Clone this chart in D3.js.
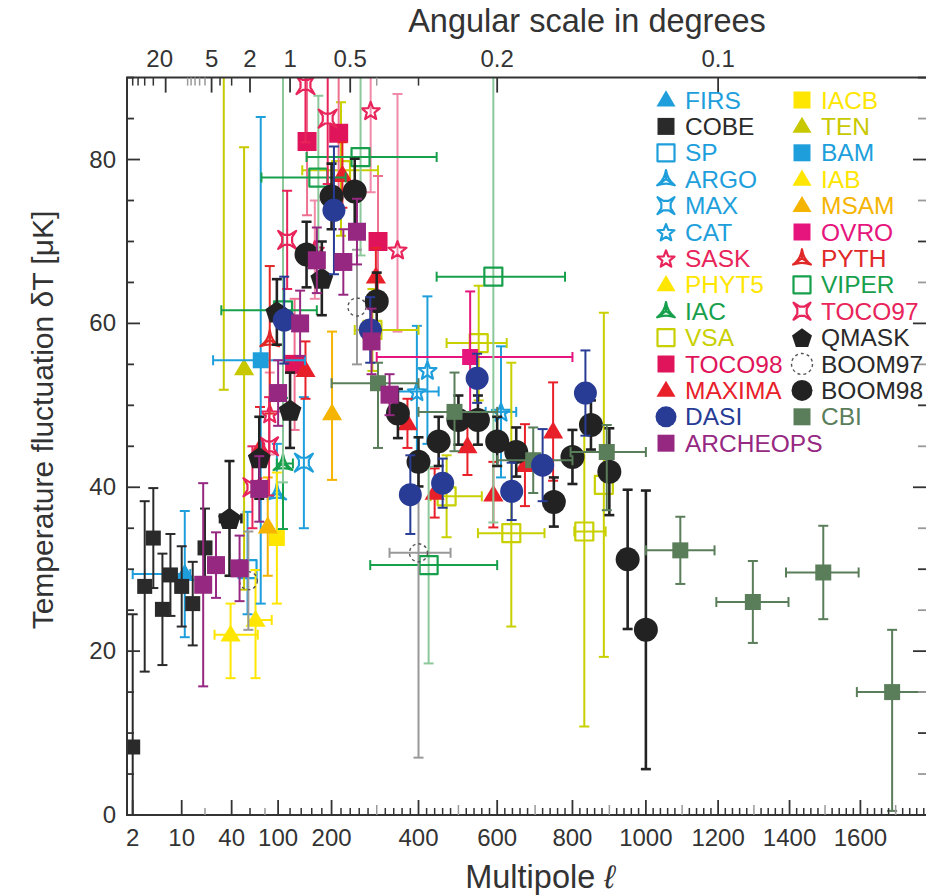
<!DOCTYPE html>
<html><head><meta charset="utf-8">
<script src="https://cdn.jsdelivr.net/npm/d3@7"></script>
<style>
body{margin:0;background:#fff;}
svg{display:block;font-family:"Liberation Sans",Arial,Helvetica,sans-serif;}
</style></head><body>
<svg id="chart" width="926" height="895"></svg>
<script>
// Point rows: [multipole, dT (uK), err down, err up, multipole low, multipole high]
const firs     = [[11, 29.4, 7.7, 7.7, 2, 13]];
const cobe     = [[2, 8.3, 8.3, 16.2], [3, 27.9, 10.4, 10.4], [4, 33.8, 6.1, 6.1], [5.4, 25.1, 6.8, 6.8],
                  [7, 29.3, 5, 5], [10, 27.9, 4.9, 4.9], [14, 25.8, 5.1, 5.1], [20, 32.6, 4.8, 4.8]];
const sp       = [[57, 30, 5.5, 7]];
const argo     = [[98, 39.3, 6, 6]];
const maxExp   = [[145, 43, 8, 8]];
const cat      = [[396, 51.7, 8, 8, 350, 450], [422, 54.3, 9, 9], [610, 49.2, 8, 8, 570, 650]];
const sask     = [[87, 49, 5, 5], [166, 69, 6, 6], [286, 86, 10, 10], [349, 69, 10, 19]];
const phyt5    = [[67, 23.8, 7.1, 6.1, 58, 90]];
const iac      = [[108, 42.9, 8, 8, 98, 125]];
const vsa      = [[220, 78.7, 8, 8.3, 142, 303], [290, 59.2, 5, 5, 250, 400], [470, 38.9, 5, 5, 430, 560],
                  [552, 57.6, 7, 7, 470, 625], [637, 34.4, 11.4, 20.8, 550, 725],
                  [832, 34.6, 23.8, 13.4, 805, 890], [885, 40.3, 21, 21]];
const toco98   = [[128, 55, 8, 8], [151, 82.2, 9, 9], [215, 83.2, 7, 7], [303, 70, 8, 8]];
const maxima   = [[73, 44.8, 5, 5], [148, 54.3, 3.5, 3.5], [223, 78.1, 4, 4], [298, 65.7, 3.5, 3.5],
                  [373, 47.8, 3, 3], [440, 39.3, 3, 3], [523, 45, 3.5, 3.5], [590, 39.1, 4, 4],
                  [673, 42.7, 5, 5], [748, 46.8, 6, 6]];
const dasi     = [[110, 60.4, 5.3, 5.3], [205, 73.8, 7.8, 7.8], [285, 59.2, 4, 4], [380, 39.1, 4.8, 4.8],
                  [460, 40.5, 3, 3], [548, 53.3, 3, 3], [638, 39.5, 3.5, 3.5], [720, 42.7, 4.4, 4.4],
                  [835, 51.5, 5.2, 5.2]];
const archeops = [[19, 28.1, 12.4, 12.4], [27, 30.5, 4, 4], [48, 30.1, 4, 4], [72, 39.8, 4, 4],
                  [100, 51.5, 4, 4], [138, 60, 4, 4], [170, 67.7, 4, 4], [225, 67.5, 4, 4],
                  [255, 71.2, 4, 4], [288, 57.8, 4, 4], [330, 51.3, 2.5, 2.5]];
const iacb     = [[98, 33.8, 8, 8]];
const ten      = [[33, 100, 48.1, 20], [53, 54.5, 27, 27]];
const bam      = [[74, 55.5, 29.7, 29.7, 25, 147]];
const iab      = [[39, 22, 5.3, 3.8, 26, 70]];
const msam     = [[84, 35.2, 6, 6], [201, 49, 8.1, 10]];
const ovro     = [[530, 55.9, 8, 8, 300, 800]];
const pyth     = [[87, 58, 9, 9]];
const viper    = [[108, 61.6, 21, 31, 31, 170], [173, 77.8, 10, 10, 75, 230], [263, 80.3, 12, 12, 150, 445],
                  [425, 30.5, 12, 12, 285, 600], [590, 65.7, 30, 30, 445, 780]];
const toco97   = [[63, 40, 5, 5], [86, 45, 6, 6], [115, 70.2, 6, 6], [148, 89.1, 7, 7], [192, 85, 8, 8]];
const qmask    = [[38, 36.2, 7, 7, 30, 50], [72, 43.6, 5, 5], [98, 61.4, 4, 4], [120, 49.4, 4.6, 4.6],
                  [180, 65.5, 4.5, 4.5]];
const boom97   = [[58, 28.6, 6, 6], [255, 62, 7, 7], [400, 32, 25, 12, 330, 480]];
const boom98   = [[150, 68.4, 4, 4], [200, 75.5, 4, 4], [250, 76.1, 4, 4], [300, 62.7, 3.5, 3.5],
                  [350, 49, 3, 3], [400, 43.1, 3, 3], [450, 45.6, 3, 3], [500, 48.2, 3, 3],
                  [550, 48.2, 3, 3], [600, 45.6, 3, 3], [650, 44.3, 3, 3], [750, 38.2, 3, 3],
                  [800, 43.7, 3.3, 3.3], [850, 47.6, 3, 3], [900, 41.9, 5.3, 5.3], [950, 31.2, 8.5, 8.5],
                  [1000, 22.6, 17, 17]];
const cbi      = [[303, 52.7, 7.9, 2.5, 200, 400], [490, 49.2, 4.8, 4.8, 400, 600], [695, 43.3, 4, 4, 600, 800],
                  [893, 44.3, 7.1, 3.3, 795, 1000], [1095, 32.3, 4.1, 4.1, 1000, 1190],
                  [1297, 26, 5, 5, 1195, 1397], [1495, 29.6, 5.7, 5.7, 1390, 1595],
                  [1690, 15, 14.5, 7.6, 1590, 1800]];

// Axis ticks
const yMajor = [0, 20, 40, 60, 80];
const xLabels = [2, 10, 40, 100, 200, 400, 600, 800, 1000, 1200, 1400, 1600];
const angleLabels = [20, 5, 2, 1, 0.5, 0.2, 0.1];
const angleMinor = [60, 50, 40, 30, 10, 9, 8, 7, 6, 4, 3, 0.4, 0.3];

const series = [
  {name: "FIRS", data: firs, shape: "triangle", color: "#1e9fdc"},
  {name: "COBE", data: cobe, shape: "square", color: "#2a2a2a", size: 15},
  {name: "SP", data: sp, shape: "osquare", color: "#1e9fdc"},
  {name: "ARGO", data: argo, shape: "tripod", color: "#1e9fdc"},
  {name: "MAX", data: maxExp, shape: "cross4", color: "#1e9fdc"},
  {name: "CAT", data: cat, shape: "ostar", color: "#1e9fdc"},
  {name: "SASK", data: sask, shape: "ostar", color: "#e8245a", bar: "#f08aa8"},
  {name: "PHYT5", data: phyt5, shape: "triangle", color: "#ffe600"},
  {name: "IAC", data: iac, shape: "tripod", color: "#17a04c"},
  {name: "VSA", data: vsa, shape: "osquare", color: "#c8d000"},
  {name: "TOCO98", data: toco98, shape: "square", color: "#e0145a", size: 19, bar: "#ee7090"},
  {name: "MAXIMA", data: maxima, shape: "triangle", color: "#e8202a"},
  {name: "DASI", data: dasi, shape: "circle", color: "#283c96", size: 23},
  {name: "ARCHEOPS", data: archeops, shape: "square", color: "#962882", size: 18},
  {name: "IACB", data: iacb, shape: "square", color: "#ffe600", size: 16},
  {name: "TEN", data: ten, shape: "triangle", color: "#c8c800"},
  {name: "BAM", data: bam, shape: "square", color: "#1e9fdc", size: 16},
  {name: "IAB", data: iab, shape: "triangle", color: "#ffe600"},
  {name: "MSAM", data: msam, shape: "triangle", color: "#f5b400"},
  {name: "OVRO", data: ovro, shape: "square", color: "#e6147d", size: 16},
  {name: "PYTH", data: pyth, shape: "tripod", color: "#e02828"},
  {name: "VIPER", data: viper, shape: "osquare", color: "#17a04c", vbar: "#8cc89a"},
  {name: "TOCO97", data: toco97, shape: "cross4", color: "#e8245a"},
  {name: "QMASK", data: qmask, shape: "pentagon", color: "#222222", size: 24},
  {name: "BOOM97", data: boom97, shape: "dcircle", color: "#555555", bar: "#999999"},
  {name: "BOOM98", data: boom98, shape: "circle", color: "#222222", size: 24},
  {name: "CBI", data: cbi, shape: "square", color: "#5a7d5a", size: 16}
];
const drawOrder = ["FIRS","COBE","SP","ARGO","MAX","CAT","SASK","PHYT5","IAC","VSA","TOCO98","MAXIMA",
  "IACB","TEN","BAM","IAB","MSAM","OVRO","PYTH","VIPER","TOCO97","QMASK","BOOM97","BOOM98","CBI","DASI","ARCHEOPS"];

const plot = {left: 127, right: 927, top: 77.6, bottom: 815};
const K = 85.91;                        // log-linear warp of the multipole axis
const warp = l => l + K * Math.log(l);
const xw = d3.scaleLinear().domain([warp(2), warp(1600)]).range([132.7, 860.4]);
const X = l => xw(warp(l));
const Y = d3.scaleLinear().domain([0, 90]).range([plot.bottom, plot.top]);

const svg = d3.select("#chart");
const ink = "#333";

function symbolPath(shape, s) {
  const r = s / 2;
  if (shape === "triangle") {
    const h = s * 0.95, b = s * 0.56;
    return `M0,${-h*0.6}L${b},${h*0.4}L${-b},${h*0.4}Z`;
  }
  if (shape === "square" || shape === "osquare") return `M${-r},${-r}h${s}v${s}h${-s}Z`;
  if (shape === "circle" || shape === "dcircle") return d3.symbol(d3.symbolCircle, Math.PI * r * r)();
  if (shape === "pentagon") {
    const pts = d3.range(5).map(i => { const a = -Math.PI/2 + i*2*Math.PI/5; return [r*Math.cos(a), r*Math.sin(a)*0.98 + 1]; });
    return "M" + pts.map(p => p.join(",")).join("L") + "Z";
  }
  if (shape === "ostar") {
    const pts = d3.range(10).map(i => { const a = -Math.PI/2 + i*Math.PI/5, rr = i % 2 ? r*0.45 : r*1.05; return [rr*Math.cos(a), rr*Math.sin(a)+1]; });
    return "M" + pts.map(p => p.join(",")).join("L") + "Z";
  }
  if (shape === "tripod") {
    const h = s * 0.9, b = s * 0.52;
    const A = [0, -h*0.6], B = [b, h*0.4], C = [-b, h*0.4];
    return `M${A}Q${b*0.15},${h*0.05} ${B}Q0,${h*0.18} ${C}Q${-b*0.15},${h*0.05} ${A}ZM0,0L${A}M0,0L${B}M0,0L${C}`;
  }
  if (shape === "cross4") {
    const q = r * 0.55, w = r * 0.3;
    return `M${-r},${-r}L${-w},${-q}L${w},${-q}L${r},${-r}L${q},${-w}L${q},${w}L${r},${r}L${w},${q}L${-w},${q}L${-r},${r}L${-q},${w}L${-q},${-w}Z`;
  }
  return "";
}
const filled = sh => ["triangle", "square", "circle", "pentagon"].includes(sh);

function drawSymbol(g, s, cx, cy, size) {
  const sz = size || s.size || 18;
  const p = g.append("path").attr("d", symbolPath(s.shape, sz)).attr("transform", `translate(${cx},${cy})`);
  if (filled(s.shape)) p.attr("fill", s.color).attr("stroke", "none");
  else {
    p.attr("fill", "none").attr("stroke", s.color).attr("stroke-width", 2.2).attr("stroke-linejoin", "round");
    if (s.shape === "dcircle") p.attr("stroke-dasharray", "3,3").attr("stroke-width", 1.4);
  }
}

// clip for data marks
svg.append("defs").append("clipPath").attr("id", "plotclip")
  .append("rect").attr("x", plot.left).attr("y", plot.top)
  .attr("width", plot.right - plot.left).attr("height", plot.bottom - plot.top);

const marks = svg.append("g").attr("clip-path", "url(#plotclip)");
const byName = Object.fromEntries(series.map(s => [s.name, s]));
const cap = 5;

drawOrder.forEach(name => {
  const s = byName[name];
  const g = marks.append("g").attr("class", "series-" + name);
  const barCol = s.bar || s.color, vCol = s.vbar || barCol;
  const bw = (name === "BOOM98" || name === "QMASK") ? 2.6 : 2;
  s.data.forEach(d => {
    const [l, v, dn, up, lo, hi] = d;
    const cx = X(l), cy = Y(v);
    if (dn !== undefined) {
      const y0 = Y(v - dn), y1 = Y(v + (up === undefined ? dn : up));
      g.append("line").attr("x1", cx).attr("x2", cx).attr("y1", y0).attr("y2", y1)
        .attr("stroke", vCol).attr("stroke-width", bw);
      [y0, y1].forEach(yy => g.append("line").attr("x1", cx - cap).attr("x2", cx + cap)
        .attr("y1", yy).attr("y2", yy).attr("stroke", vCol).attr("stroke-width", bw));
    }
    if (lo !== undefined && hi !== undefined) {
      const x0 = X(lo), x1 = X(hi);
      g.append("line").attr("x1", x0).attr("x2", x1).attr("y1", cy).attr("y2", cy)
        .attr("stroke", barCol).attr("stroke-width", bw);
      [x0, x1].forEach(xx => g.append("line").attr("x1", xx).attr("x2", xx)
        .attr("y1", cy - cap).attr("y2", cy + cap).attr("stroke", barCol).attr("stroke-width", bw));
    }
  });
  s.data.forEach(d => drawSymbol(g, s, X(d[0]), Y(d[1])));
});

// frame
const axes = svg.append("g").attr("stroke", ink).attr("stroke-width", 2).attr("fill", "none");
axes.append("path").attr("d", `M${plot.right},${plot.top}H${plot.left}V${plot.bottom}H${plot.right}`);

// left & right y ticks
const yTicks = d3.range(0, 91, 5);
yTicks.forEach(t => {
  const major = t % 20 === 0;
  const len = major ? 13 : 7;
  axes.append("line").attr("x1", plot.left).attr("x2", plot.left + len).attr("y1", Y(t)).attr("y2", Y(t))
    .attr("stroke-width", 1.8);
  axes.append("line").attr("x1", plot.right).attr("x2", plot.right - (major ? 14 : 9)).attr("y1", Y(t)).attr("y2", Y(t))
    .attr("stroke-width", 1.8).attr("stroke", t % 10 === 5 ? "#999" : ink);
});
svg.append("g").selectAll("text").data(yMajor).join("text")
  .attr("x", 116).attr("y", d => Y(d) + 8).attr("text-anchor", "end")
  .attr("font-size", 24).attr("fill", ink).text(d => d);

// bottom ticks
const xMinor = [20, 60, 80].concat(d3.range(120, 1800, 20).filter(v => !xLabels.includes(v)));
xMinor.forEach(t => {
  const hund = t % 100 === 0;
  axes.append("line").attr("x1", X(t)).attr("x2", X(t)).attr("y1", plot.bottom).attr("y2", plot.bottom - (hund ? 10 : 7))
    .attr("stroke-width", 1.5).attr("stroke", hund || t === 20 || t === 80 ? "#999" : ink);
});
xLabels.forEach(t => axes.append("line").attr("x1", X(t)).attr("x2", X(t))
  .attr("y1", plot.bottom).attr("y2", plot.bottom - 15).attr("stroke-width", 1.8));
svg.append("g").selectAll("text").data(xLabels).join("text")
  .attr("x", d => X(d)).attr("y", 846).attr("text-anchor", "middle")
  .attr("font-size", 24).attr("fill", ink).text(d => d);

// top angular-scale ticks (theta = 120 / ell)
const ellOf = th => 120 / th;
angleMinor.forEach(t => axes.append("line").attr("x1", X(ellOf(t))).attr("x2", X(ellOf(t)))
  .attr("y1", plot.top).attr("y2", plot.top + 8).attr("stroke-width", 1.5)
  .attr("stroke", [10, 9, 8, 7, 6, 0.4].includes(t) ? "#999" : ink));
angleLabels.forEach(t => axes.append("line").attr("x1", X(ellOf(t))).attr("x2", X(ellOf(t)))
  .attr("y1", plot.top).attr("y2", plot.top + 15).attr("stroke-width", 1.8));
svg.append("g").selectAll("text").data(angleLabels).join("text")
  .attr("x", d => X(ellOf(d)) - (d === 20 ? 6 : 0)).attr("y", 67).attr("text-anchor", "middle")
  .attr("font-size", 24).attr("fill", ink).text(d => d);

// titles
svg.append("text").attr("x", 587).attr("y", 32).attr("text-anchor", "middle")
  .attr("font-size", 32.5).attr("fill", ink).text("Angular scale in degrees");
const xt = svg.append("text").attr("x", 540).attr("y", 888).attr("text-anchor", "middle")
  .attr("font-size", 32.5).attr("fill", ink);
xt.append("tspan").text("Multipole ");
xt.append("tspan").attr("font-style", "italic").text("ℓ");
svg.append("text").attr("transform", "translate(53,420) rotate(-90)").attr("text-anchor", "middle")
  .attr("font-size", 30).attr("fill", ink).text("Temperature fluctuation δT [μK]");

// legend, two columns
const legend = svg.append("g");
series.forEach((s, i) => {
  const col = i < 14 ? 0 : 1, row = i < 14 ? i : i - 14;
  const cx = col ? 802 : 666, cy = 100 + row * 26.4;
  const lsize = s.shape === "circle" || s.shape === "pentagon" || s.shape === "dcircle" ? 21 : 17;
  drawSymbol(legend, s, cx, cy, lsize);
  legend.append("text").attr("x", col ? 821 : 685).attr("y", cy + 8.5)
    .attr("font-size", 24.5).attr("fill", s.name === "BOOM97" || s.name === "BOOM98" || s.name === "QMASK" || s.name === "COBE" ? "#2a2a2a" : s.color)
    .text(s.name);
});
</script>
</body></html>
